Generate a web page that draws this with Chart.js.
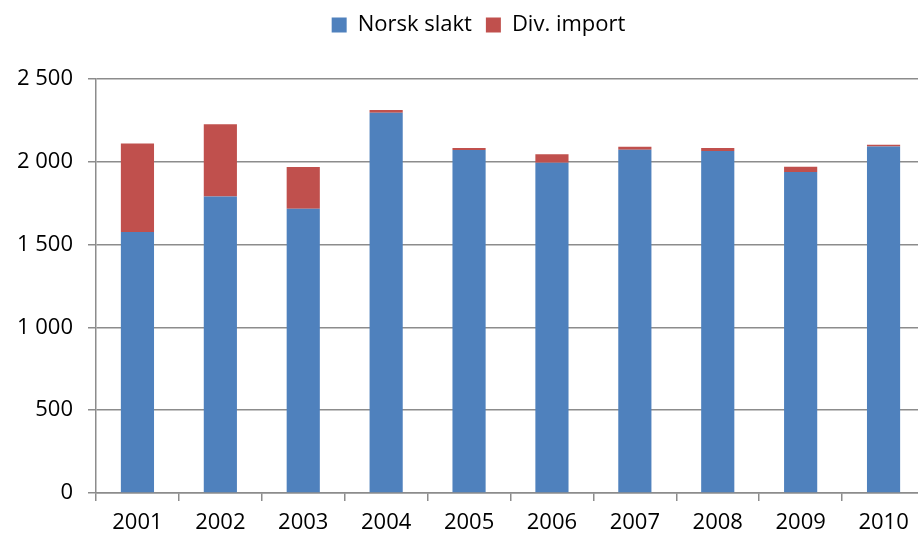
<!DOCTYPE html>
<html>
<head>
<meta charset="utf-8">
<script src="https://cdn.jsdelivr.net/npm/chart.js@4"></script>
<style>
	html, body { margin: 0; padding: 0; background: #fff; overflow: hidden; }
	#wrap { width: 925px; height: 538px; }
</style>
</head>
<body>
<div id="wrap"><canvas id="chart"></canvas></div>
<script>
const years = ["2001", "2002", "2003", "2004", "2005", "2006", "2007", "2008", "2009", "2010"];
const norskSlakt = [1576, 1791, 1717, 2296, 2071, 1995, 2073, 2065, 1938, 2093];
const divImport = [535, 435, 252, 17, 12, 50, 18, 18, 32, 10];
const yTicks = [0, 500, 1000, 1500, 2000, 2500];

const fontFamily = "'Open Sans', 'Liberation Sans', sans-serif";
const gridColor = "#8c8c8c";

function formatThousands(value)
{
	return String(value).replace(/\B(?=(\d{3})+(?!\d))/g, " ");
}

// fixed legend block height, and nudge it right: the reference plot runs past the picture edge
const legendPlacement = {
	id: "legendPlacement",
	beforeInit(chart)
	{
		const fit = chart.legend.fit;
		chart.legend.fit = function()
		{
			fit.bind(chart.legend)();
			this.height = 79;
		};
	},
	afterLayout(chart)
	{
		chart.legend.left += 16;
		chart.legend.right += 16;
	}
};

new Chart(document.getElementById("chart"),
{
	type: "bar",
	data:
	{
		labels: years,
		datasets: [
			{ label: "Norsk slakt", data: norskSlakt, backgroundColor: "#4f81bd", barPercentage: 0.4, categoryPercentage: 1 },
			{ label: "Div. import", data: divImport, backgroundColor: "#c0504d", barPercentage: 0.4, categoryPercentage: 1 }
		]
	},
	options:
	{
		responsive: true,
		maintainAspectRatio: false,
		animation: false,
		layout: { padding: 0 },
		plugins:
		{
			legend:
			{
				position: "top",
				labels: { boxWidth: 15, boxHeight: 15, padding: 14, color: "#000", font: { family: fontFamily, size: 22 } }
			},
			tooltip: { enabled: false }
		},
		scales:
		{
			x:
			{
				stacked: true,
				offset: true,
				grid: { offset: true, drawOnChartArea: false, drawTicks: true, tickLength: 8, color: gridColor, lineWidth: 1.5 },
				border: { display: true, color: gridColor, width: 1.5 },
				ticks: { color: "#000", padding: 9, maxRotation: 0, font: { family: fontFamily, size: 22 } },
				afterFit: scale => { scale.height = 45; }
			},
			y:
			{
				stacked: true,
				min: 0,
				max: 2500,
				afterBuildTicks: scale => { scale.ticks = yTicks.map(v => ({ value: v })); },
				grid: { color: gridColor, lineWidth: 1.5, tickLength: 8 },
				border: { display: true, color: gridColor, width: 1.5 },
				ticks: { color: "#000", padding: 15, font: { family: fontFamily, size: 22 }, callback: v => formatThousands(v) },
				afterFit: scale => { scale.width = 96; }
			}
		}
	},
	plugins: [legendPlacement]
});
</script>
</body>
</html>
